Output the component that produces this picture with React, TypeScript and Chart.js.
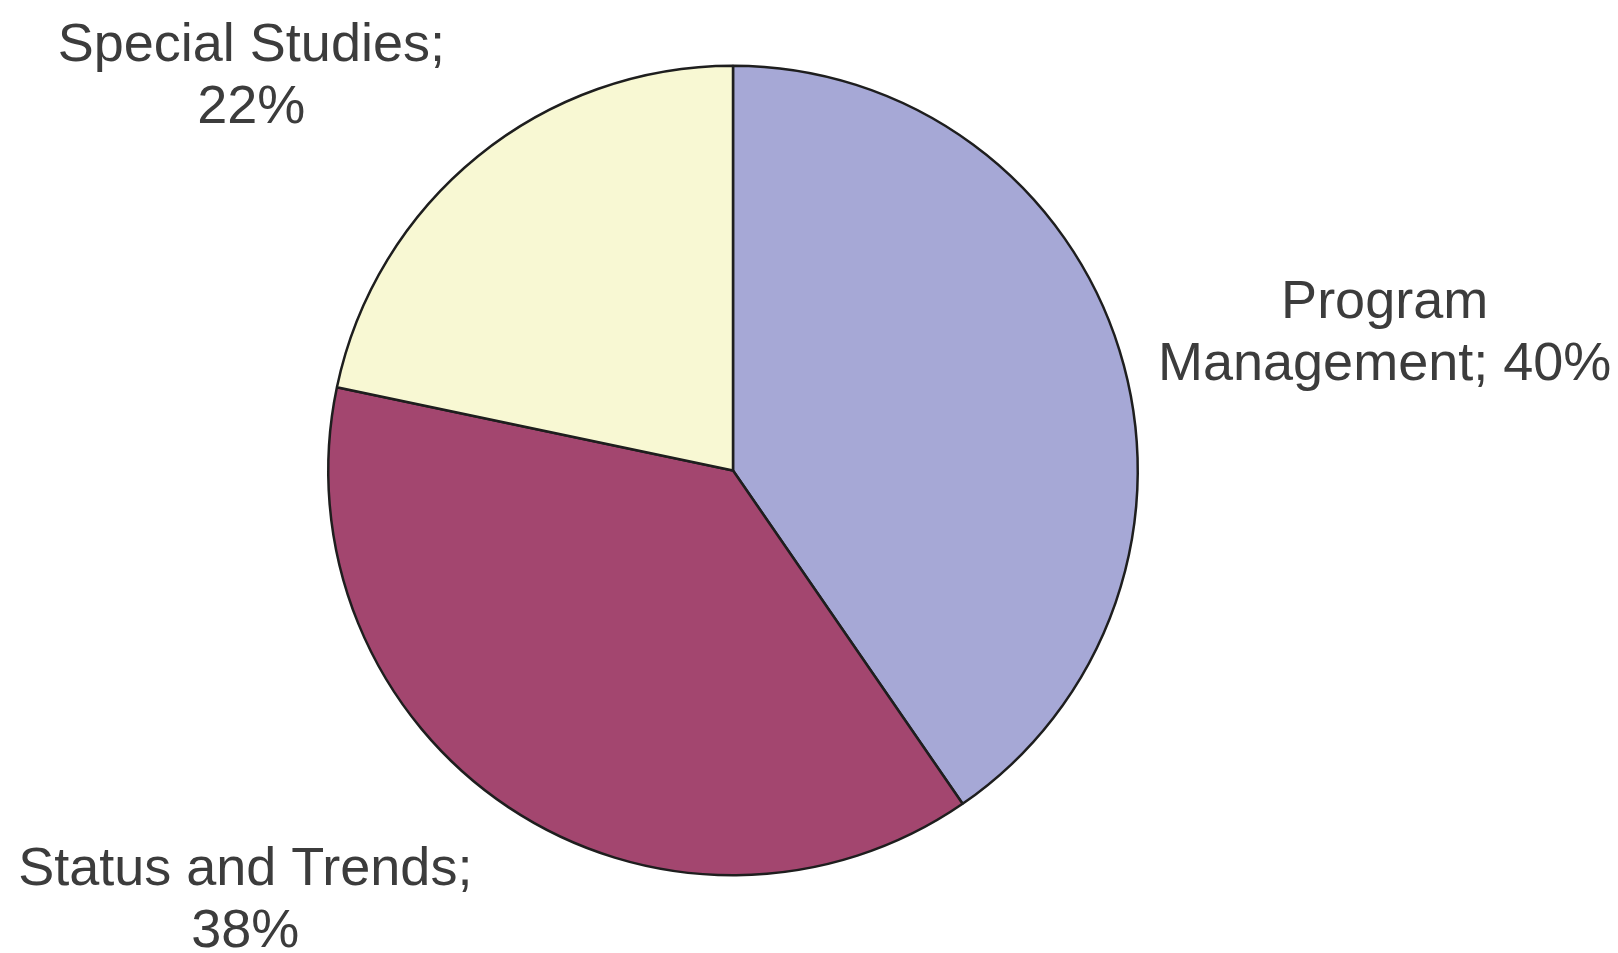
import React, { useEffect, useRef } from "react";
import { Chart, registerables } from "chart.js";

Chart.register(...registerables);

const categories = ["Program Management", "Status and Trends", "Special Studies"];
const values = [40.4, 37.9, 21.7];
const colors = ["#A6A8D6", "#A3466F", "#F8F8D3"];
// how each label is broken into lines ("{p}" = rounded percent)
const labelTemplates = [
  ["Program", "Management; {p}%"],
  ["Status and Trends;", "{p}%"],
  ["Special Studies;", "{p}%"],
];
// label block centre, relative to pie centre, in units of the pie radius
const labelOffsets = [
  [1.61, -0.348],
  [-1.205, 1.052],
  [-1.19, -0.982],
];

const FONT_SIZE = 54;
const LINE_GAP = 62;

const labelPlugin = {
  id: "pieLabels",
  afterDatasetsDraw(chart: any) {
    const ctx = chart.ctx;
    const meta = chart.getDatasetMeta(0);
    ctx.save();
    ctx.font = `${FONT_SIZE}px "Liberation Sans", Arial, sans-serif`;
    ctx.fillStyle = "#3c3c3c";
    ctx.textAlign = "center";
    ctx.textBaseline = "alphabetic";
    const cap = FONT_SIZE * 0.716;
    meta.data.forEach((arc: any, i: number) => {
      const { x, y, outerRadius } = arc.getProps(["x", "y", "outerRadius"], true);
      const cx = x + labelOffsets[i][0] * outerRadius;
      const cy = y + labelOffsets[i][1] * outerRadius;
      const pct = String(Math.round(values[i]));
      const lines = labelTemplates[i].map((t) => t.replace("{p}", pct));
      const blockH = cap + LINE_GAP * (lines.length - 1);
      const firstBase = cy - blockH / 2 + cap;
      lines.forEach((ln, k) => ctx.fillText(ln, cx, firstBase + k * LINE_GAP));
    });
    ctx.restore();
  },
};

export default function App() {
  const ref = useRef<HTMLCanvasElement | null>(null);
  useEffect(() => {
    if (!ref.current) return;
    const chart = new Chart(ref.current, {
      type: "pie",
      data: {
        labels: categories,
        datasets: [
          {
            data: values,
            backgroundColor: colors,
            borderColor: "#1e1e1e",
            borderWidth: 2.5,
          },
        ],
      },
      options: {
        animation: false,
        responsive: false,
        layout: { padding: { top: 64, bottom: 76, left: 327, right: 479 } },
        plugins: {
          legend: { display: false },
          tooltip: { enabled: false },
        },
      },
      plugins: [labelPlugin],
    });
    return () => chart.destroy();
  }, []);
  return (
    <div style={{ position: "fixed", left: 0, top: 0, width: 1618, height: 953, background: "#fff" }}>
      <canvas ref={ref} width={1618} height={953} style={{ display: "block" }} />
    </div>
  );
}
